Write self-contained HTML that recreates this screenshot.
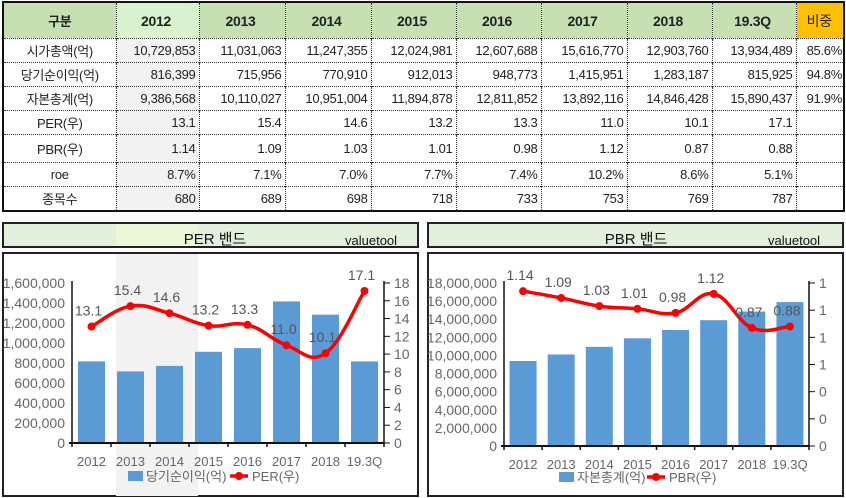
<!DOCTYPE html>
<html><head><meta charset="utf-8">
<style>
body{margin:0;width:846px;height:498px;background:#fff;position:relative;overflow:hidden;font-family:"Liberation Sans","Noto Sans CJK KR",sans-serif;}
table{position:absolute;left:2px;top:1px;border-collapse:collapse;border:2px solid #111;table-layout:fixed;width:843px}
td{font-size:13px;color:#222;height:23px;padding:0 3px 0 0;border-left:1px dotted #333;border-top:1px dotted #333;text-align:right;white-space:nowrap;overflow:hidden;font-family:"Liberation Sans Narrow","Liberation Sans","Noto Sans CJK KR",sans-serif;letter-spacing:-0.3px}
tr.h td{height:35px;background:#c6e0b4;font-weight:bold;text-align:center;border-top:none;font-size:14px}
tr.h td.c12{background:#d8f2cf}
tr.h td.bj{background:#ffc000;font-weight:normal;text-align:center}
table td.lab{text-align:center;padding:0;width:113px;font-family:"Liberation Sans","Noto Sans CJK KR",sans-serif;font-size:13px}
td.g{background:#f2f2f2}
td.bj{text-align:right;padding-right:1px}
svg{position:absolute;left:0;top:0}
</style></head><body>
<table>
<colgroup><col style="width:113px"><col style="width:83px"><col style="width:86px"><col style="width:86px"><col style="width:85px"><col style="width:85px"><col style="width:86px"><col style="width:85px"><col style="width:84px"><col style="width:48px"></colgroup>
<tr class="h"><td class="lab" style="border-left:none;font-weight:bold">구분</td><td class="c12">2012</td><td>2013</td><td>2014</td><td>2015</td><td>2016</td><td>2017</td><td>2018</td><td>19.3Q</td><td class="bj">비중</td></tr>
<tr><td class="lab" style="border-left:none">시가총액(억)</td><td class="g">10,729,853</td><td>11,031,063</td><td>11,247,355</td><td>12,024,981</td><td>12,607,688</td><td>15,616,770</td><td>12,903,760</td><td>13,934,489</td><td class="bj">85.6%</td></tr>
<tr><td class="lab" style="border-left:none">당기순이익(억)</td><td class="g">816,399</td><td>715,956</td><td>770,910</td><td>912,013</td><td>948,773</td><td>1,415,951</td><td>1,283,187</td><td>815,925</td><td class="bj">94.8%</td></tr>
<tr><td class="lab" style="border-left:none">자본총계(억)</td><td class="g">9,386,568</td><td>10,110,027</td><td>10,951,004</td><td>11,894,878</td><td>12,811,852</td><td>13,892,116</td><td>14,846,428</td><td>15,890,437</td><td class="bj">91.9%</td></tr>
<tr><td class="lab" style="border-left:none">PER(우)</td><td class="g">13.1</td><td>15.4</td><td>14.6</td><td>13.2</td><td>13.3</td><td>11.0</td><td>10.1</td><td>17.1</td><td class="bj"></td></tr>
<tr><td class="lab" style="border-left:none;height:27px">PBR(우)</td><td class="g">1.14</td><td>1.09</td><td>1.03</td><td>1.01</td><td>0.98</td><td>1.12</td><td>0.87</td><td>0.88</td><td class="bj"></td></tr>
<tr><td class="lab" style="border-left:none">roe</td><td class="g">8.7%</td><td>7.1%</td><td>7.0%</td><td>7.7%</td><td>7.4%</td><td>10.2%</td><td>8.6%</td><td>5.1%</td><td class="bj"></td></tr>
<tr><td class="lab" style="border-left:none">종목수</td><td class="g">680</td><td>689</td><td>698</td><td>718</td><td>733</td><td>753</td><td>769</td><td>787</td><td class="bj"></td></tr>
</table>
<svg id="svg" width="846" height="498"></svg>
<script>
const categories=["2012","2013","2014","2015","2016","2017","2018","19.3Q"];
const netIncome=[816399,715956,770910,912013,948773,1415951,1283187,815925];
const perValues=[13.1,15.4,14.6,13.2,13.3,11.0,10.1,17.1];
const perLabels=["13.1","15.4","14.6","13.2","13.3","11.0","10.1","17.1"];
const equity=[9386568,10110027,10951004,11894878,12811852,13892116,14846428,15890437];
const pbrValues=[1.14,1.09,1.03,1.01,0.98,1.12,0.87,0.88];
const pbrLabels=["1.14","1.09","1.03","1.01","0.98","1.12","0.87","0.88"];
const leftTicks1=[0,200000,400000,600000,800000,1000000,1200000,1400000,1600000];
const rightTicks1=[0,2,4,6,8,10,12,14,16,18];
const leftTicks2=[0,2000000,4000000,6000000,8000000,10000000,12000000,14000000,16000000,18000000];
const rightTicks2=[0,0.2,0.4,0.6,0.8,1.0,1.2];

const svg=document.getElementById('svg');
const NS='http://www.w3.org/2000/svg';
function mk(t,a,p){const e=document.createElementNS(NS,t);for(const k in a)e.setAttribute(k,a[k]);(p||svg).appendChild(e);return e;}
function fmt(v){return v.toLocaleString('en-US');}
function smooth(pts){let d='M'+pts[0][0]+','+pts[0][1];for(let i=0;i<pts.length-1;i++){const p0=pts[i-1]||pts[i],p1=pts[i],p2=pts[i+1],p3=pts[i+2]||p2;const t=0.2;d+=' C'+(p1[0]+(p2[0]-p0[0])*t)+','+(p1[1]+(p2[1]-p0[1])*t)+' '+(p2[0]-(p3[0]-p1[0])*t)+','+(p2[1]-(p3[1]-p1[1])*t)+' '+p2[0]+','+p2[1];}return d;}
const TC='#666';
function chart(o){
  const g=mk('g',{});
  
  
  const hdr=mk('rect',{x:o.bx,y:223,width:o.bw,height:24,fill:'#e2efda',stroke:'#222','stroke-width':2},g);
  
  
  const box=mk('rect',{x:o.bx,y:253,width:o.bw,height:243,fill:'#fff',stroke:'#222','stroke-width':2},g);
  
  
  if(o.band){const b=mk('rect',{x:116,y:254,width:82,height:242,fill:'#f2f2f2'},g);
    const b2=mk('rect',{x:116,y:224,width:82,height:22,fill:'#ebf7d6'},g);}
  const tt=mk('text',{x:o.tx,y:244,'font-size':15,fill:'#111','text-anchor':'middle'},g);tt.textContent=o.title;
  
  const vt=mk('text',{x:o.vx,y:245,'font-size':13,fill:'#111'},g);vt.textContent='valuetool';
  
  const L=o.L,R=o.R,T=283,B=o.B,n=categories.length,cw=(R-L)/n;
  const yL=v=>B-(v/o.lmax)*(B-T), yR=v=>B-(v/o.rmax)*(B-T);
  o.lt.forEach(v=>{const t=mk('text',{x:L-7,y:yL(v)+5,'font-size':14,fill:TC,'text-anchor':'end'},g);t.textContent=fmt(v);
    });
  o.rt.forEach(v=>{mk('line',{x1:R,x2:R+6,y1:yR(v),y2:yR(v),stroke:'#111'},g);const t=mk('text',{x:R+10,y:yR(v)+5,'font-size':14,fill:TC},g);t.textContent=o.rfmt(v);
    });
  o.bars.forEach((v,i)=>{const x=L+cw*i+(cw-27)/2;const r=mk('rect',{x:x,y:yL(v),width:27,height:B-yL(v),fill:'#5b9bd5'},g);
    });
  mk('line',{x1:L,x2:L,y1:T-2,y2:B,stroke:'#111','stroke-width':1.5},g);
  mk('line',{x1:R,x2:R,y1:T-2,y2:B,stroke:'#111','stroke-width':1.5},g);
  mk('line',{x1:L-3,x2:R,y1:B,y2:B,stroke:'#111','stroke-width':2},g);
  for(let i=0;i<=n;i++)mk('line',{x1:L+cw*i,x2:L+cw*i,y1:B,y2:B+4,stroke:'#111','stroke-width':1.5},g);
  categories.forEach((c,i)=>{const t=mk('text',{x:L+cw*(i+0.5),y:o.xly,'font-size':13,fill:TC,'text-anchor':'middle'},g);t.textContent=c;
    });
  const pts=o.line.map((v,i)=>[L+cw*(i+0.5),yR(v)]);
  const p=mk('path',{d:smooth(pts),fill:'none',stroke:'#ff0000','stroke-width':3.5},g);
  
  pts.forEach((q,i)=>{const c=mk('circle',{cx:q[0],cy:q[1],r:4,fill:'#ff0000'},g);
    const t=mk('text',{x:q[0]-3,y:q[1]-11,'font-size':14,fill:'#555','text-anchor':'middle'},g);t.textContent=o.labels[i];
    });
  const ly=o.ly;
  const lb=mk('rect',{x:o.lgx,y:ly-5,width:15,height:10,fill:'#5b9bd5'},g);
  const t1=mk('text',{x:o.lgx+18,y:ly+5,'font-size':13,fill:TC},g);t1.textContent=o.leg1;
  const lx=o.lgx2;mk('line',{x1:lx,x2:lx+18,y1:ly,y2:ly,stroke:'#ff0000','stroke-width':3.5},g);mk('circle',{cx:lx+9,cy:ly,r:4,fill:'#ff0000'},g);
  const t2=mk('text',{x:lx+22,y:ly+5,'font-size':13,fill:TC},g);t2.textContent=o.leg2;
}
chart({name:'per-band-chart',bx:3,bw:415,band:true,title:'PER 밴드',tx:215,vx:345,L:72,R:384,B:443,lmax:1600000,rmax:18,lt:leftTicks1,rt:rightTicks1,rfmt:v=>String(v),
  bars:netIncome,line:perValues,labels:perLabels,xly:466,ly:476,lgx:128,lgx2:230,leg1:'당기순이익(억)',leg2:'PER(우)'});
chart({name:'pbr-band-chart',bx:428,bw:415,band:false,title:'PBR 밴드',tx:636,vx:768,L:504,R:809,B:446,lmax:18000000,rmax:1.2,lt:leftTicks2,rt:rightTicks2,rfmt:v=>String(Math.round(v)),
  bars:equity,line:pbrValues,labels:pbrLabels,xly:469,ly:477,lgx:559,lgx2:647,leg1:'자본총계(억)',leg2:'PBR(우)'});
</script>
</body></html>
